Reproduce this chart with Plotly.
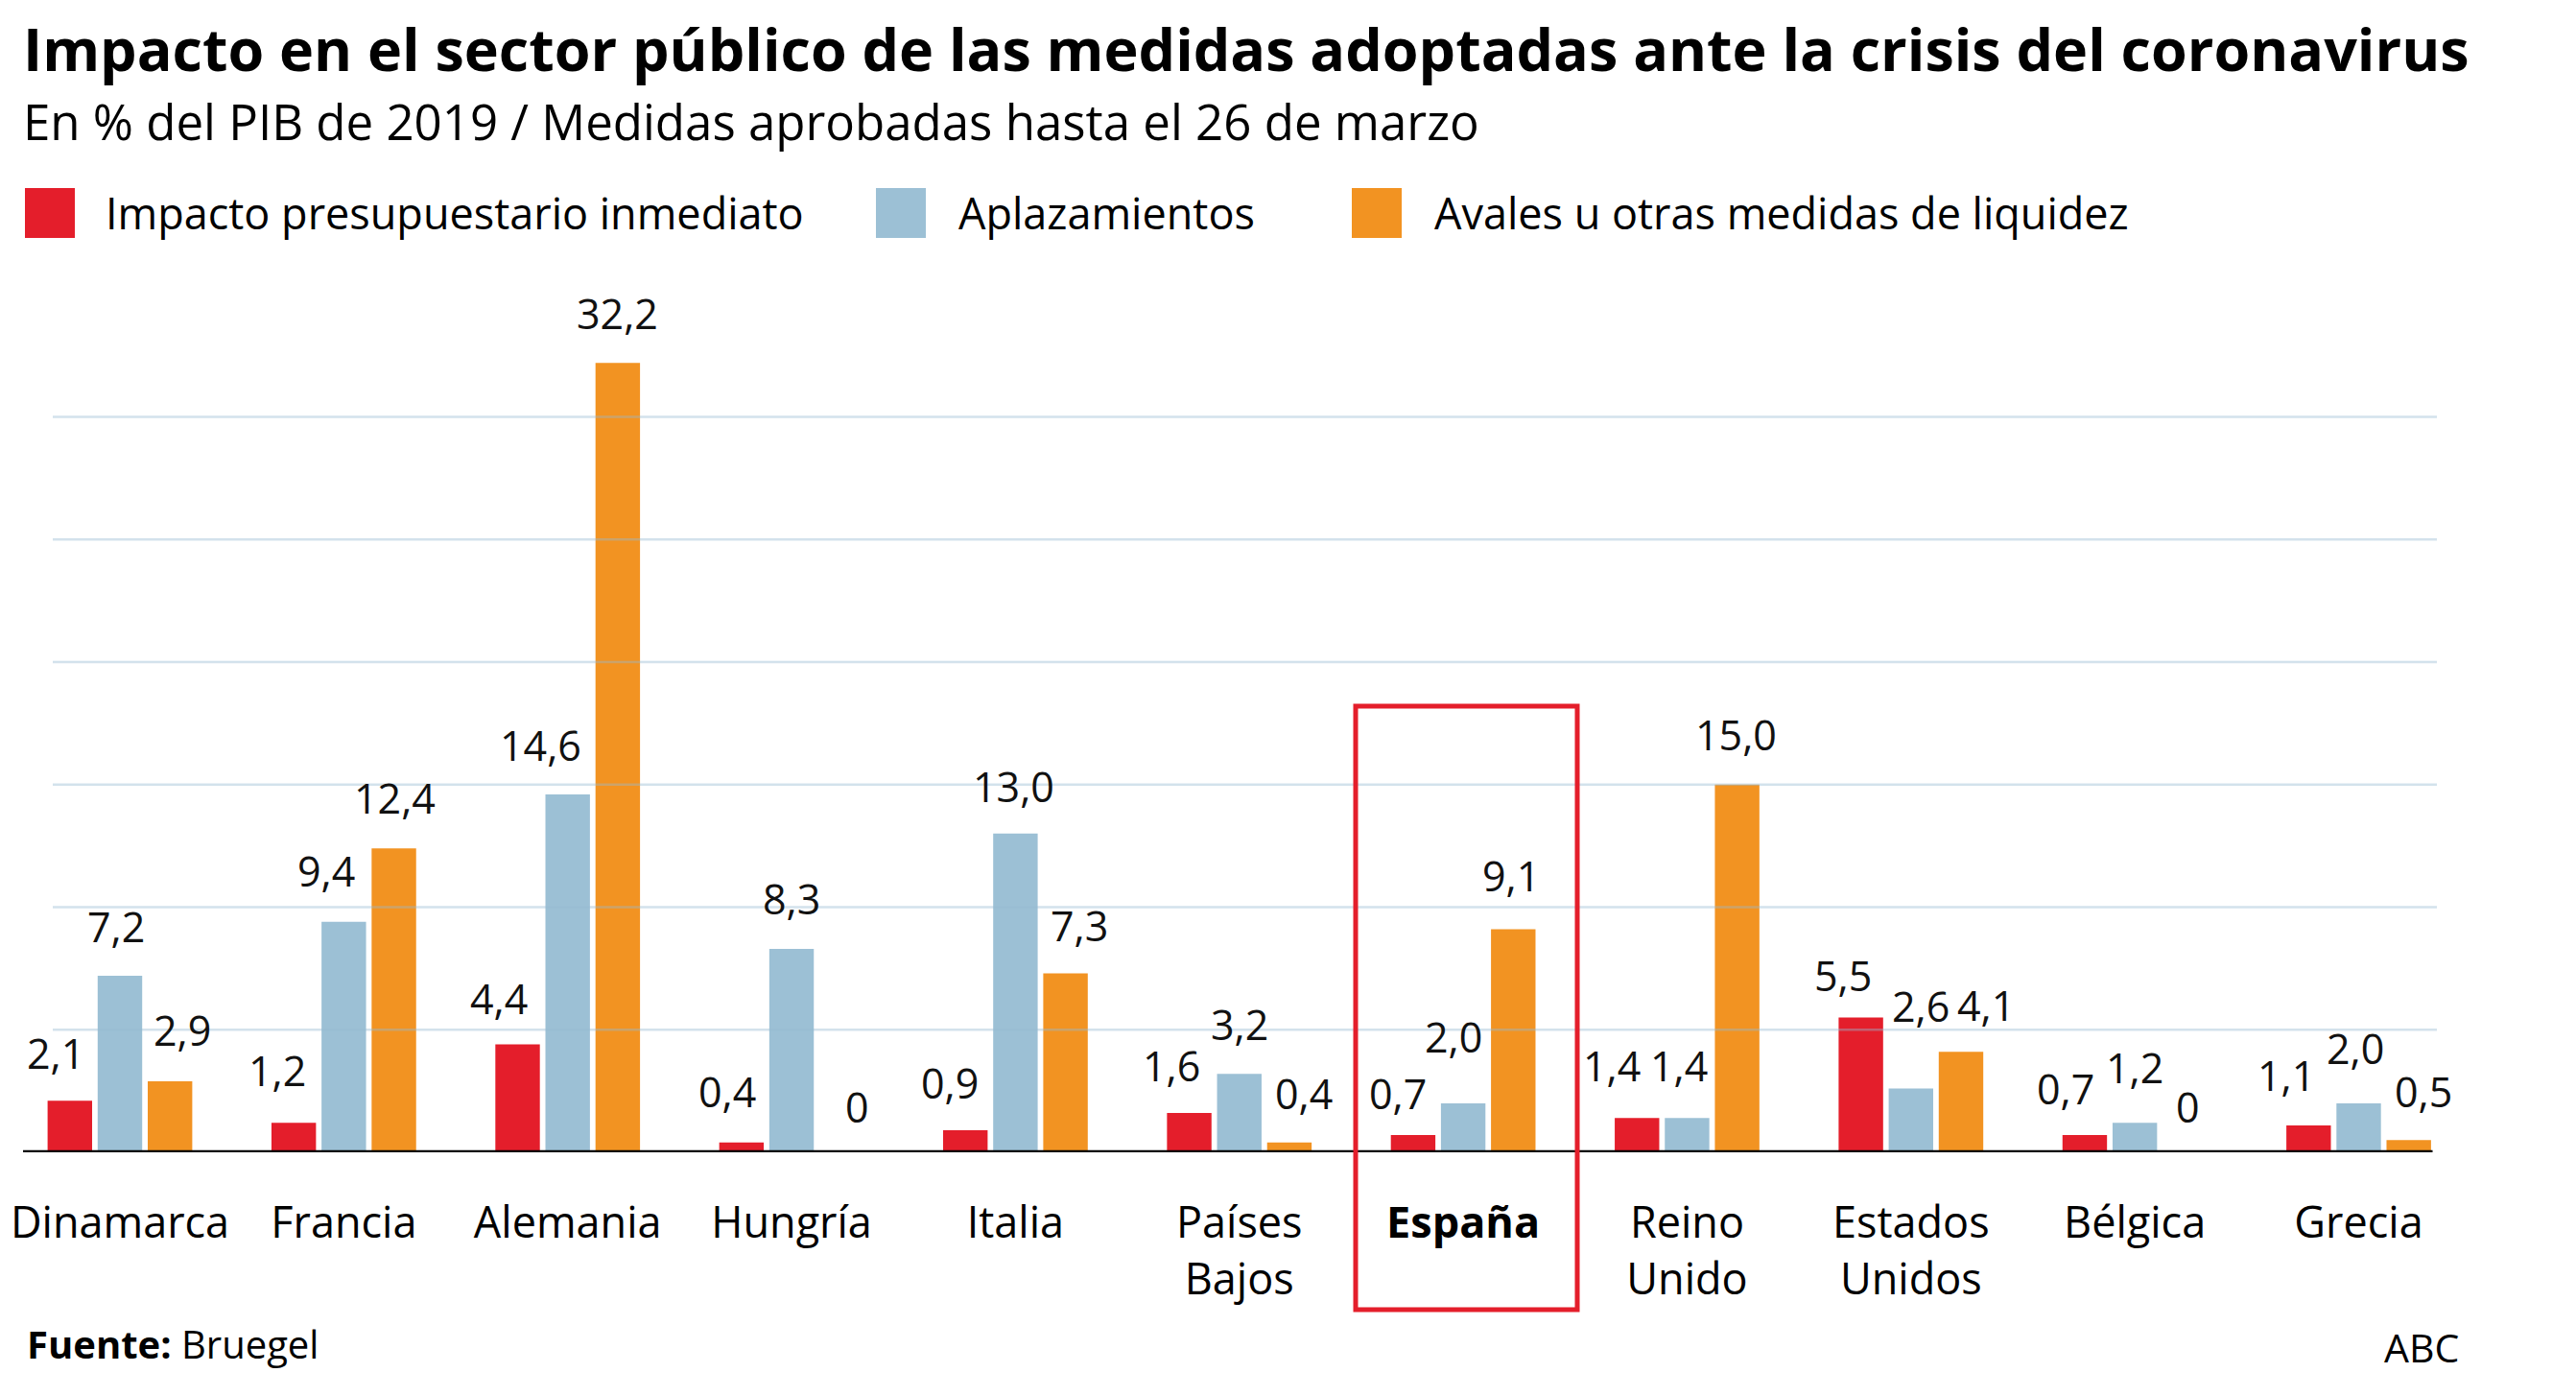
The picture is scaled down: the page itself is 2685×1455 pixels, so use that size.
import plotly.graph_objects as go

# ---------------- data ----------------
categories = ["Dinamarca", "Francia", "Alemania", "Hungría", "Italia", "Países Bajos",
              "España", "Reino Unido", "Estados Unidos", "Bélgica", "Grecia"]
tick_labels = ["Dinamarca", "Francia", "Alemania", "Hungría", "Italia", "Países<br>Bajos",
               "<b>España</b>", "Reino<br>Unido", "Estados<br>Unidos", "Bélgica", "Grecia"]
series_names = ["Impacto presupuestario inmediato", "Aplazamientos",
                "Avales u otras medidas de liquidez"]
impacto = [2.1, 1.2, 4.4, 0.4, 0.9, 1.6, 0.7, 1.4, 5.5, 0.7, 1.1]
aplazamientos = [7.2, 9.4, 14.6, 8.3, 13.0, 3.2, 2.0, 1.4, 2.6, 1.2, 2.0]
avales = [2.9, 12.4, 32.2, 0.0, 7.3, 0.4, 9.1, 15.0, 4.1, 0.0, 0.5]
grid_values = [5, 10, 15, 20, 25, 30]

# ---------------- style ----------------
colors = ["#e41e2b", "#9cc0d5", "#f29322"]
FONT = "Open Sans"
WIN_W, WIN_H = 2685, 1455
OFF = 8                      # default page (body) margin
W, H = WIN_W - OFF, WIN_H - OFF

# label nudges (pixels) for readability, per series
label_dx = [
    [-15, -17, -20, -15, -16, -19, -16, -26, -19, -20, -23],
    [-4, -18, -28, 0, -2, 0, -10, -8, 10, 0, -4],
    [13, 1, 0, 16, 14, 15, -2, -1, 26, 3, 15],
]
label_dy = [
    [50, 55, 48, 53, 50, 50, 44, 55, 44, 49, 52],
    [52, 53, 51, 52, 49, 52, 69, 55, 86, 58, 57],
    [53, 53, 52, 48, 50, 51, 56, 52, 49, 48, 51],
]
slot_px = 52.2  # distance between bar centres within a group


def px(p):
    """window pixel column -> paper x"""
    return (p - OFF) / W


def py(p):
    """window pixel row -> paper y"""
    return (H - (p - OFF)) / H


fig = go.Figure()
all_series = [impacto, aplazamientos, avales]
for name, vals, col in zip(series_names, all_series, colors):
    fig.add_trace(go.Bar(x=categories, y=vals, name=name, marker_color=col,
                         marker_line_width=0, showlegend=False, hoverinfo="x+y"))

annotations = []
# value labels
for i, vals in enumerate(all_series):
    for j, v in enumerate(vals):
        txt = "0" if v == 0 else f"{v:.1f}".replace(".", ",")
        annotations.append(dict(
            x=categories[j], y=v, xref="x", yref="y", text=txt, showarrow=False,
            xanchor="center", yanchor="middle",
            xshift=(i - 1) * slot_px + label_dx[i][j], yshift=label_dy[i][j],
            font=dict(family=FONT, size=43, color="#111111")))

# title, subtitle, footer
annotations += [
    dict(x=px(22), y=py(51), xref="paper", yref="paper", xanchor="left", yanchor="middle",
         text="<b>Impacto en el sector público de las medidas adoptadas ante la crisis del coronavirus</b>",
         showarrow=False, font=dict(family=FONT, size=61, color="#000000")),
    dict(x=px(22), y=py(126), xref="paper", yref="paper", xanchor="left", yanchor="middle",
         text="En % del PIB de 2019 / Medidas aprobadas hasta el 26 de marzo",
         showarrow=False, font=dict(family=FONT, size=51, color="#000000")),
    dict(x=px(26), y=py(1400), xref="paper", yref="paper", xanchor="left", yanchor="middle",
         text="<b>Fuente:</b> Bruegel", showarrow=False,
         font=dict(family=FONT, size=40, color="#000000")),
    dict(x=px(2565), y=py(1404), xref="paper", yref="paper", xanchor="right", yanchor="middle",
         text="ABC", showarrow=False, font=dict(family=FONT, size=41, color="#000000")),
]

shapes = []
# legend (custom squares + labels)
legend_sq = [26, 913, 1409]
legend_tx = [108, 997, 1493]
for name, col, sx, tx in zip(series_names, colors, legend_sq, legend_tx):
    shapes.append(dict(type="rect", xref="paper", yref="paper",
                       x0=px(sx), x1=px(sx + 52), y0=py(248), y1=py(196),
                       fillcolor=col, line_width=0))
    annotations.append(dict(x=px(tx), y=py(222), xref="paper", yref="paper",
                            xanchor="left", yanchor="middle", text=name, showarrow=False,
                            font=dict(family=FONT, size=45, color="#000000")))

# gridlines drawn over bars (semi-transparent)
for g in grid_values:
    shapes.append(dict(type="line", xref="x", yref="y", x0=-0.3, x1=10.35, y0=g, y1=g,
                       line=dict(color="rgba(150,185,210,0.42)", width=2.5), layer="above"))
# baseline
shapes.append(dict(type="line", xref="x", yref="y", x0=-0.44, x1=10.33, y0=0, y1=0,
                   line=dict(color="#000000", width=4.5), layer="above"))
# highlight box for España
shapes.append(dict(type="rect", xref="paper", yref="paper",
                   x0=px(1413), x1=px(1644), y0=py(1365), y1=py(736),
                   line=dict(color="#e41e2b", width=5), fillcolor="rgba(0,0,0,0)",
                   layer="above"))

x_left, x_right = 24, 2540
c0, cstep = 125, 233.35
y0_px, y_unit = 1201, 25.55
y_top_px = 300

fig.update_layout(
    width=W, height=H,
    margin=dict(l=0, r=0, t=0, b=0, autoexpand=False),
    paper_bgcolor="white", plot_bgcolor="white",
    barmode="group", bargap=0.329, bargroupgap=0.111,
    font=dict(family=FONT, color="#000000"),
    xaxis=dict(domain=[px(x_left), px(x_right)],
               range=[(x_left - c0) / cstep, (x_right - c0) / cstep],
               tickmode="array", tickvals=categories, ticktext=tick_labels,
               tickfont=dict(family=FONT, size=45, color="#000000"),
               ticks="outside", ticklen=34, tickcolor="rgba(0,0,0,0)",
               automargin=False,
               showgrid=False, zeroline=False, showline=False, fixedrange=True),
    yaxis=dict(domain=[py(y0_px), py(y_top_px)],
               range=[0, (y0_px - y_top_px) / y_unit],
               automargin=False,
               showgrid=False, zeroline=False, showline=False, showticklabels=False,
               fixedrange=True),
    annotations=annotations,
    shapes=shapes,
)

fig.write_html("out.html")
